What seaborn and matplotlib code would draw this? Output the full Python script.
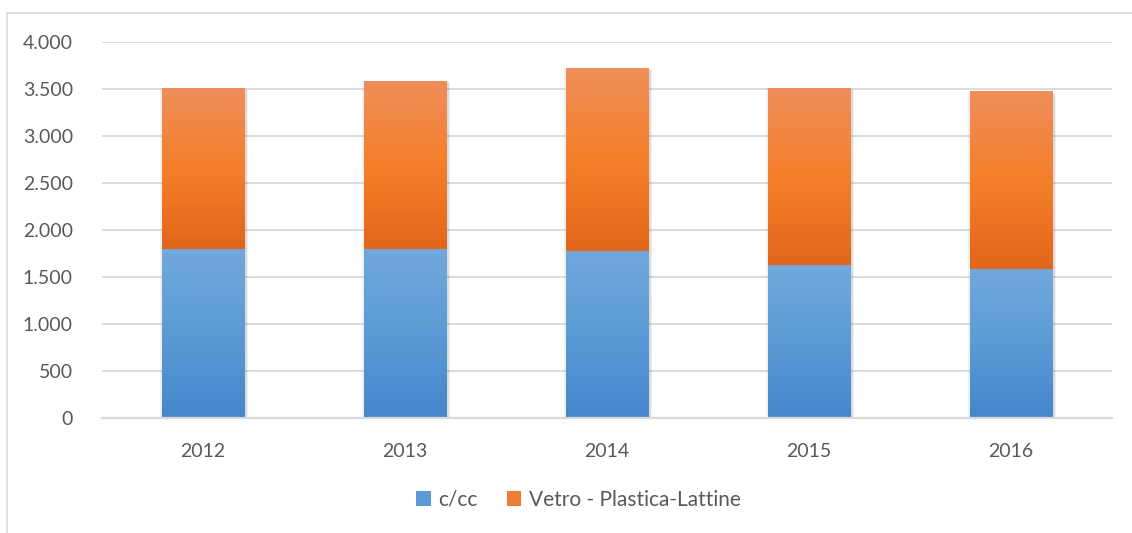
import numpy as np
import pandas as pd
import matplotlib
matplotlib.use("Agg")
import matplotlib.pyplot as plt
import seaborn as sns
from matplotlib.colors import LinearSegmentedColormap
from matplotlib.patches import Patch
from matplotlib.lines import Line2D
from matplotlib import patheffects as pe
from matplotlib.ticker import FuncFormatter

# ── data ────────────────────────────────────────────────
years = ["2012", "2013", "2014", "2015", "2016"]
cc = [1795, 1795, 1775, 1625, 1580]
vpl = [1712, 1787, 1945, 1882, 1885]
series_names = ["c/cc", "Vetro - Plastica-Lattine"]
yticks = [0, 500, 1000, 1500, 2000, 2500, 3000, 3500, 4000]

df = pd.DataFrame({"anno": years, "cc": cc, "vpl": vpl})
df["totale"] = df["cc"] + df["vpl"]

# ── style ───────────────────────────────────────────────
sns.set_theme(style="white")
plt.rcParams["font.family"] = ["Lato", "DejaVu Sans"]
TXT = "#595959"
GRID = "#D9D9D9"

fig = plt.figure(figsize=(11.32, 5.33), dpi=100)
ax = fig.add_axes([0.0901, 0.2163, 0.8922, 0.7055])

# orange = full stack, blue drawn on top of it
sns.barplot(data=df, x="anno", y="totale", color="#ED7D31", width=0.406,
            errorbar=None, linewidth=0, ax=ax, zorder=2)
n = len(ax.patches)
sns.barplot(data=df, x="anno", y="cc", color="#5B9BD5", width=0.406,
            errorbar=None, linewidth=0, ax=ax, zorder=2)

blue_cmap = LinearSegmentedColormap.from_list("b", ["#4586CC", "#5B9BD5", "#71A8DD"])
orange_cmap = LinearSegmentedColormap.from_list("o", ["#E2661A", "#F57F2A", "#EF8E5A"])
grad = np.linspace(0, 1, 256).reshape(-1, 1)

for i in range(n):
    top = ax.patches[i]
    bot = ax.patches[n + i]
    x0, w = top.get_x(), top.get_width()
    # soft shadow around the whole bar
    top.set_path_effects([
        pe.SimplePatchShadow(offset=(3, -1.5), shadow_rgbFace="k", alpha=0.06),
        pe.SimplePatchShadow(offset=(2, -1), shadow_rgbFace="k", alpha=0.10),
        pe.SimplePatchShadow(offset=(1, -0.5), shadow_rgbFace="k", alpha=0.12),
        pe.SimplePatchShadow(offset=(-1.5, 0), shadow_rgbFace="k", alpha=0.06),
        pe.Normal(),
    ])
    ax.imshow(grad, cmap=orange_cmap, origin="lower", aspect="auto",
              extent=(x0, x0 + w, bot.get_height(), top.get_height()), zorder=3)
    ax.imshow(grad, cmap=blue_cmap, origin="lower", aspect="auto",
              extent=(x0, x0 + w, 0, bot.get_height()), zorder=3)

ax.set_xlim(-0.5, len(years) - 0.5)
ax.set_ylim(0, 4000)
ax.set_yticks(yticks)
ax.yaxis.set_major_formatter(FuncFormatter(lambda v, _: f"{v:,.0f}".replace(",", ".")))
ax.set_xlabel("")
ax.set_ylabel("")

ax.set_axisbelow(True)
ax.yaxis.grid(True, color=GRID, linewidth=1.3)
for s in ["left", "right", "top"]:
    ax.spines[s].set_visible(False)
ax.spines["bottom"].set_color(GRID)
ax.spines["bottom"].set_linewidth(1.6)
ax.spines["bottom"].set_zorder(4)
ax.tick_params(axis="both", length=0, labelsize=14, labelcolor=TXT)
ax.tick_params(axis="y", pad=21)
ax.tick_params(axis="x", pad=18.5)

handles = [Patch(facecolor="#5B9BD5", edgecolor="none"),
           Patch(facecolor="#ED7D31", edgecolor="none")]
fig.legend(handles, series_names, loc="center", bbox_to_anchor=(0.511, 0.062),
           ncol=2, frameon=False, fontsize=15, labelcolor=TXT,
           handlelength=0.7, handleheight=0.7, handletextpad=0.35,
           columnspacing=1.4)

# chart frame (only top and left are visible in the crop)
yb = 1 - 12.7 / 533
xb = 7.3 / 1132
fig.add_artist(Line2D([xb, 1], [yb, yb], transform=fig.transFigure, color=GRID, lw=1.2))
fig.add_artist(Line2D([xb, xb], [0, yb], transform=fig.transFigure, color=GRID, lw=1.2))

fig.savefig("out.png", dpi=100)
